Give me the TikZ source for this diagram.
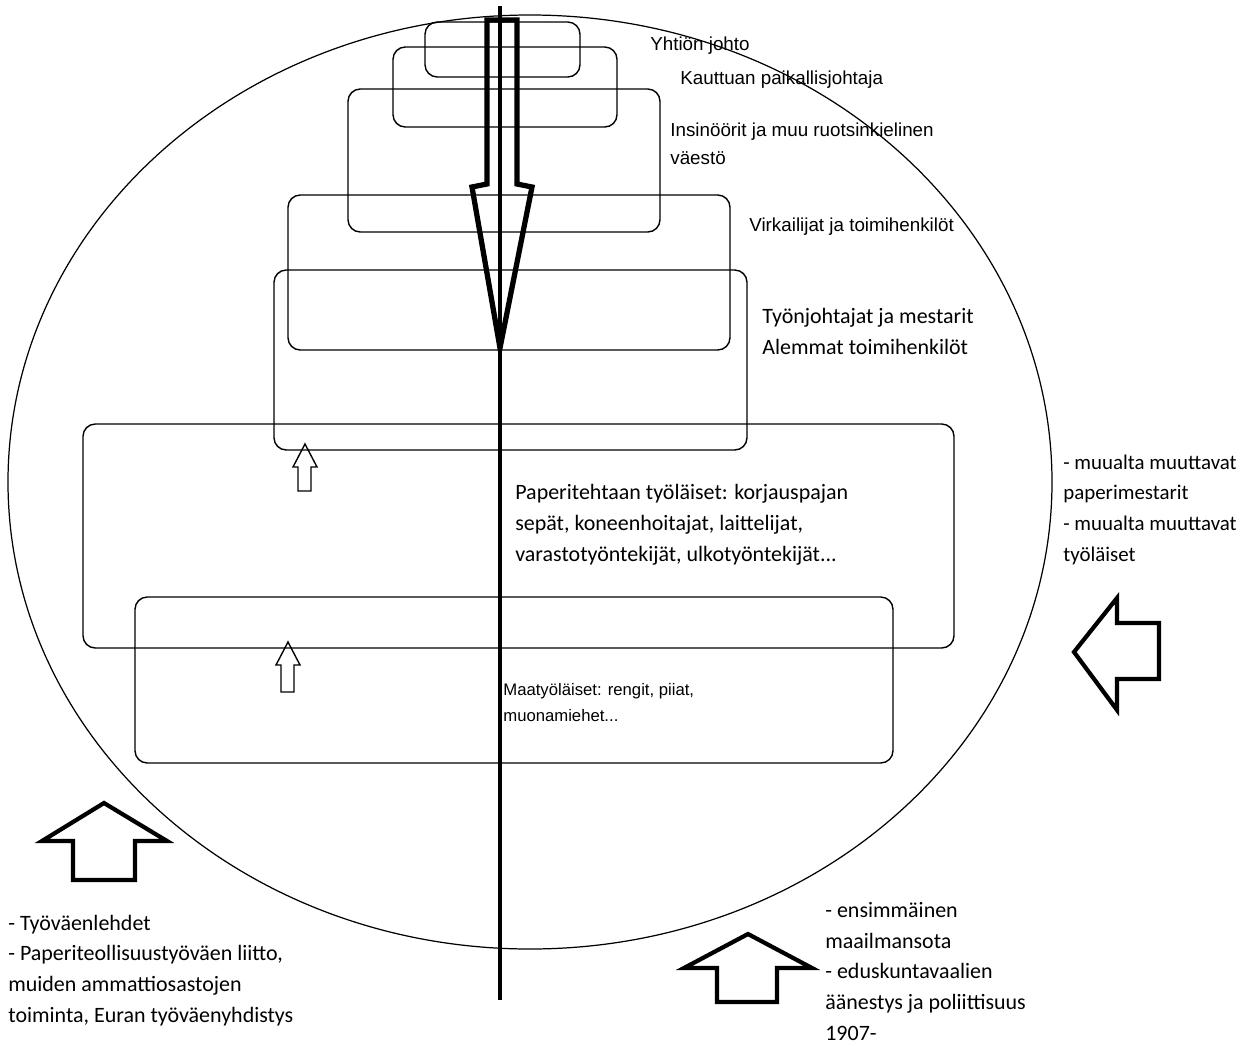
\documentclass[tikz,border=0pt]{standalone}
\usepackage{fontspec}
\setmainfont{Carlito}
\newfontfamily\arialfont{Liberation Sans}

\tikzset{
	group/.style={draw, rounded corners=7pt, line width=0.8pt},
	lbl/.style={font=\arialfont\fontsize{10.7}{15.9}\selectfont, align=left, inner sep=0pt, anchor=base west},
	small/.style={font=\arialfont\fontsize{9.5}{14.7}\selectfont, align=left, inner sep=0pt, anchor=base west},
	cal/.style={font=\fontsize{12.5}{17.4}\selectfont, align=left, inner sep=0pt, anchor=base west},
	calr/.style={cal, font=\fontsize{11.9}{17.4}\selectfont},
	thickarrow/.style={draw, line width=2.4pt, line join=miter},
	thinarrow/.style={draw, line width=0.8pt}
}

\begin{document}
\begin{tikzpicture}[x=0.02cm, y=-0.02cm]
	\useasboundingbox (0,0) rectangle (1258,1045);

	% community
	\draw[line width=0.7pt] (530,482) ellipse [x radius=522, y radius=467];

	% levels
	\draw[group] (425,22) rectangle (580,77);
	\draw[group] (393,47) rectangle (617,127);
	\draw[group] (348,89) rectangle (660,232);
	\draw[group] (288,195) rectangle (730,350);
	\draw[group] (274,270) rectangle (747,450);
	\draw[group] (83,424) rectangle (954,648);
	\draw[group] (135,597) rectangle (893,763);

	% power from above
	\draw[thickarrow, line width=3pt] (487,20) -- (487,184) -- (472,187) -- (500,348) -- (532,187) -- (517,184) -- (517,20) -- cycle;
	\coordinate(top) at (500,6);
	\coordinate(bottom) at (500,1000);
	\draw[line width=2.4pt] (top) -- (bottom);

	% rising
	\draw[thinarrow] (305,444) -- (317,467) -- (311,467) -- (311,491) -- (298,491) -- (298,467) -- (293,467) -- cycle;
	\draw[thinarrow] (288,642) -- (300,665) -- (294,665) -- (294,692) -- (281,692) -- (281,665) -- (276,665) -- cycle;

	% outside
	\draw[thickarrow] (104,803) -- (167,841) -- (135,841) -- (135,880) -- (73,880) -- (73,841) -- (42,841) -- cycle;
	\draw[thickarrow] (748,934) -- (812,968) -- (777,968) -- (777,1002) -- (717,1002) -- (717,968) -- (684,968) -- cycle;
	\draw[thickarrow] (1074,652) -- (1117,598) -- (1117,623) -- (1159,623) -- (1159,679) -- (1117,679) -- (1117,710) -- cycle;

	% base of the last line
	\node(johto) [lbl] at (650,50) {Yhtiön johto};
	\node(paikallis) [lbl] at (680,84) {Kauttuan paikallisjohtaja};
	\node(insinoorit) [lbl] at (670,164) {Insinöörit ja muu ruotsinkielinen\\väestö};
	\node(virkailijat) [lbl] at (749,231) {Virkailijat ja toimihenkilöt};
	\node(tyonjohtajat) [cal] at (762,354) {Työnjohtajat ja mestarit\\Alemmat toimihenkilöt};
	\node(paperi) [cal] at (515,561) {Paperitehtaan työläiset: korjauspajan\\sepät, koneenhoitajat, laittelijat,\\varastotyöntekijät, ulkotyöntekijät...};
	\node(maa) [small] at (503,721) {Maatyöläiset: rengit, piiat,\\muonamiehet...};

	\node(muutto) [calr] at (1063,561) {- muualta muuttavat\\paperimestarit\\- muualta muuttavat\\työläiset};
	\node(lehdet) [cal] at (8,1022) {- Työväenlehdet\\- Paperiteollisuustyöväen liitto,\\muiden ammattiosastojen\\toiminta, Euran työväenyhdistys};
	\node(sota) [cal] at (825,1040) {- ensimmäinen\\maailmansota\\- eduskuntavaalien\\äänestys ja poliittisuus\\1907-};

\end{tikzpicture}
\end{document}
